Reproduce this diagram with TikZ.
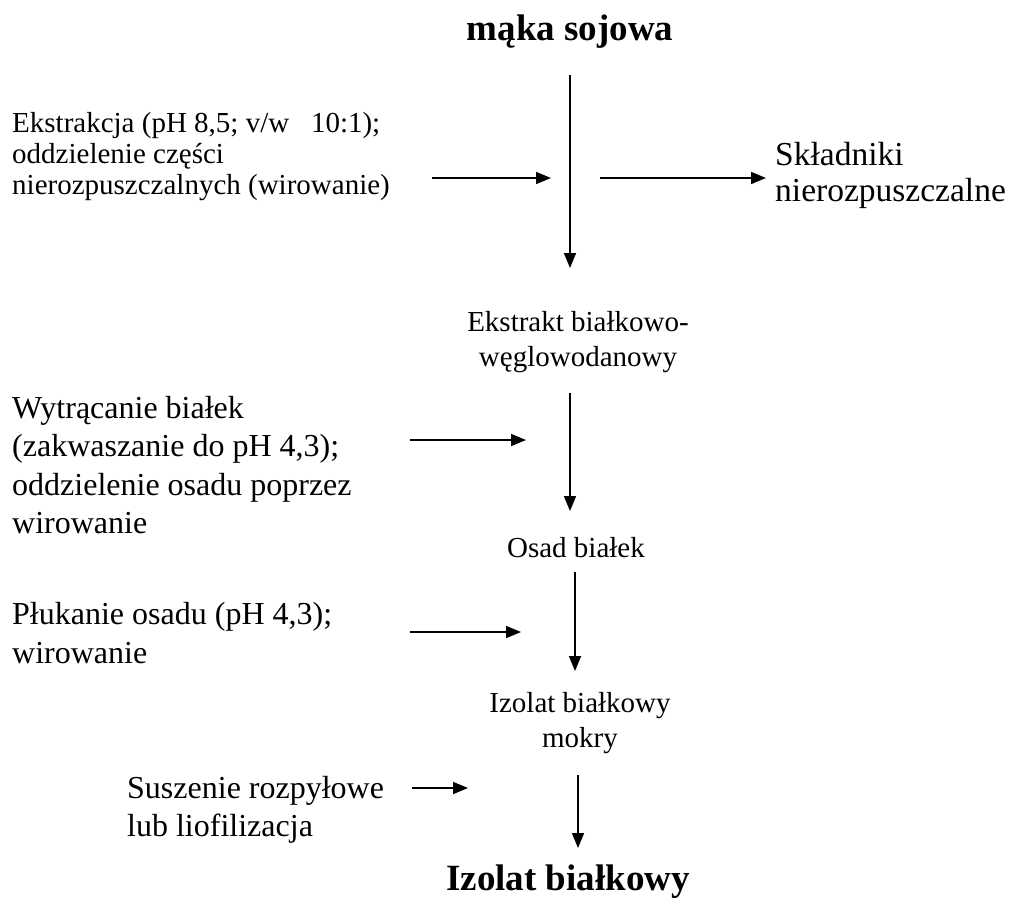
\documentclass[tikz,border=0pt]{standalone}
\usepackage{fontspec}
\setmainfont{Liberation Serif}
\usetikzlibrary{arrows.meta}
\begin{document}
\begin{tikzpicture}[x=1pt,y=-1pt,
  flow/.style={line width=1.6pt,-{Triangle[length=15pt,width=12pt]}},
  title/.style={font=\fontsize{37}{42}\selectfont\bfseries,inner sep=0pt},
  smalltxt/.style={font=\fontsize{29}{31}\selectfont,inner sep=0pt,align=left},
  midtxt/.style={font=\fontsize{29}{35}\selectfont,inner sep=0pt,align=center},
  bigtxt/.style={font=\fontsize{32}{38.5}\selectfont,inner sep=0pt,align=left}]
\useasboundingbox (0,0) rectangle (1011,910);
\node[title] (maka) at (570,32) {mąka sojowa};
\node[smalltxt,anchor=west] (ekstr) at (12,157) {Ekstrakcja (pH 8,5; v/w \ \ 10:1);\\oddzielenie części\\nierozpuszczalnych (wirowanie)};
\node[bigtxt,anchor=west,font=\fontsize{33.5}{36}\selectfont] (skl) at (775,175) {Składniki\\nierozpuszczalne};
\node[midtxt] (ekstrakt) at (578,342) {Ekstrakt białkowo-\\węglowodanowy};
\node[bigtxt,anchor=west] (wytr) at (12,465) {Wytrącanie białek\\(zakwaszanie do pH 4,3);\\oddzielenie osadu poprzez\\wirowanie};
\node[midtxt] (osad) at (576,548) {Osad białek};
\node[bigtxt,anchor=west] (pluk) at (12,633) {Płukanie osadu (pH 4,3);\\wirowanie};
\node[midtxt] (izm) at (580,723) {Izolat białkowy\\mokry};
\node[bigtxt,anchor=west] (susz) at (127,810) {Suszenie rozpyłowe\\lub liofilizacja};
\node[title] (izolat) at (568,882) {Izolat białkowy};
\coordinate (a1s) at (570,75); \coordinate (a1e) at (570,268);
\coordinate (h1s) at (432,178); \coordinate (h1e) at (551,178);
\coordinate (h2s) at (600,178); \coordinate (h2e) at (766,178);
\coordinate (a2s) at (570,393); \coordinate (a2e) at (570,511);
\coordinate (h3s) at (410,440); \coordinate (h3e) at (526,440);
\coordinate (a3s) at (575,572); \coordinate (a3e) at (575,671);
\coordinate (h4s) at (410,632); \coordinate (h4e) at (521,632);
\coordinate (a4s) at (578,775); \coordinate (a4e) at (578,848);
\coordinate (h5s) at (412,788); \coordinate (h5e) at (468,788);
\draw[flow] (a1s) -- (a1e);
\draw[flow] (h1s) -- (h1e);
\draw[flow] (h2s) -- (h2e);
\draw[flow] (a2s) -- (a2e);
\draw[flow] (h3s) -- (h3e);
\draw[flow] (a3s) -- (a3e);
\draw[flow] (h4s) -- (h4e);
\draw[flow] (a4s) -- (a4e);
\draw[flow] (h5s) -- (h5e);
\end{tikzpicture}
\end{document}
